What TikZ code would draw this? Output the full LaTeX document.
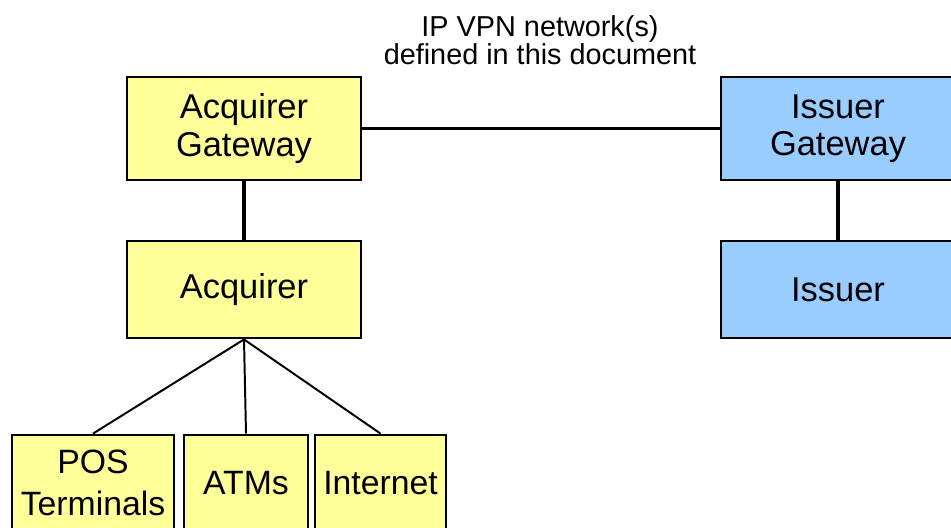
\documentclass[tikz,border=0pt]{standalone}
\usepackage{fontspec}
\setmainfont{Liberation Sans}
\usetikzlibrary{positioning}
\definecolor{acqyellow}{HTML}{FFFF99}
\definecolor{issblue}{HTML}{99CCFF}

\begin{document}
\begin{tikzpicture}[x=0.025cm,y=-0.025cm,
      party/.style={draw,line width=2pt,align=center,inner sep=0pt,
        font=\fontsize{24.5}{26.5}\selectfont},
      acqbox/.style={party,fill=acqyellow},
      issbox/.style={party,fill=issblue},
      link/.style={line width=2.3pt},
      branch/.style={line width=1.4pt}]
    \clip (0,0) rectangle (951,527);
    % network label
    \node[align=center,font=\fontsize{20.5}{20}\selectfont] (vpn) at (540,40)
      {IP VPN network(s)\\defined in this document};
    % acquirer side
    \node[acqbox,minimum width=5.85cm,minimum height=2.575cm] (acqgw) at (244,128.5) {Acquirer\\Gateway};
    \node[acqbox,minimum width=5.85cm,minimum height=2.425cm] (acq) at (244,289.5) {Acquirer};
    \node[acqbox,minimum width=4.05cm,minimum height=2.4cm,
      font=\fontsize{24}{30}\selectfont] (pos) at (93,483) {POS\\Terminals};
    \node[acqbox,minimum width=3.1cm,minimum height=2.4cm,
      font=\fontsize{24}{30}\selectfont] (atm) at (246,483) {ATMs};
    \node[acqbox,minimum width=3.275cm,minimum height=2.4cm,
      font=\fontsize{24}{30}\selectfont] (inet) at (380.5,483) {Internet};
    % issuer side
    \node[issbox,minimum width=5.85cm,minimum height=2.575cm] (issgw) at (838,128.5) {Issuer\\Gateway};
    \node[issbox,minimum width=5.85cm,minimum height=2.425cm] (iss) at (838,289.5) {Issuer};
    % links
    \draw[link] (acqgw.east) -- (issgw.west);
    \draw[link] (acqgw.south) -- (acq.north);
    \draw[link] (issgw.south) -- (iss.north);
    \foreach \t in {pos,atm,inet}{
      \draw[branch] (acq.south) -- (\t.north);
    }
  \end{tikzpicture}
\end{document}
